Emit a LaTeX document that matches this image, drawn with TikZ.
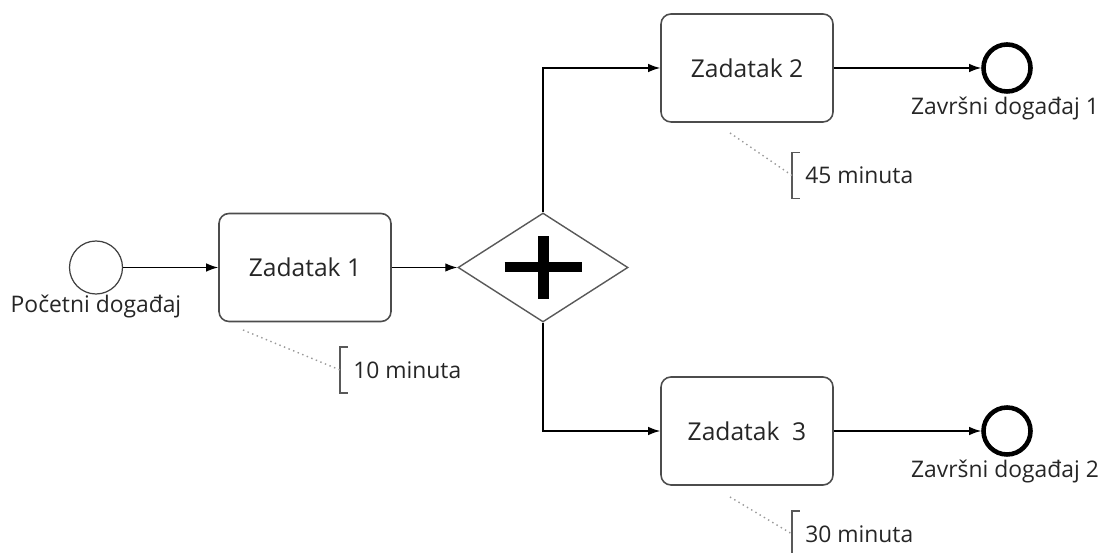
\documentclass[tikz,border=0pt]{standalone}
\usepackage{fontspec}
\setmainfont{Open Sans}
\usetikzlibrary{shapes.geometric,arrows.meta}

\begin{document}
\begin{tikzpicture}[font=\fontsize{13}{15}\selectfont, text=black!85,
    >={Latex[length=2.4mm,width=1.7mm]}]

        \useasboundingbox (0,0) rectangle (22.06,11.06);

        % events
        \begin{scope}[every node/.style={circle,draw,inner sep=0pt}]
          \node[minimum size=1.06cm,draw=black!75,line width=0.7pt] (1) at (1.92,5.71) {};
          \node[minimum size=0.94cm,line width=2.6pt] (6) at (20.14,9.70) {};
          \node[minimum size=0.94cm,line width=2.6pt] (7) at (20.14,2.44) {};
        \end{scope}

        \node (l1) at (1.92,4.94)  {Početni događaj};
        \node (l6) at (20.10,8.88) {Završni događaj 1};
        \node (l7) at (20.10,1.64) {Završni događaj 2};

        % tasks
        \begin{scope}[every node/.style={draw=black!70,line width=0.9pt,rounded corners=0.2cm,
            minimum width=3.44cm,minimum height=2.16cm,font=\fontsize{14}{16}\selectfont}]
          \node (2) at (6.10,5.71)  {Zadatak 1};
          \node (4) at (14.94,9.70) {Zadatak 2};
          \node (5) at (14.94,2.44) {Zadatak\ \ 3};
        \end{scope}

        % gateway
        \node[diamond,draw=black!65,line width=0.8pt,inner sep=0pt,
          minimum width=3.40cm,minimum height=2.18cm] (3) at (10.86,5.71) {};
        \draw[line width=0.2cm] ([xshift=-0.77cm]3.center) -- ([xshift=0.77cm]3.center);
        \draw[line width=0.22cm] ([yshift=-0.63cm]3.center) -- ([yshift=0.63cm]3.center);

        \begin{scope}[every edge/.style={draw,->,line width=0.75pt}]
          \path (1) edge (2);
          \path (2) edge (3);
          \path (4) edge (6);
          \path (5) edge (7);
        \end{scope}
        \draw[->,line width=0.75pt] (3.north) |- (4);
        \draw[->,line width=0.75pt] (3.south) |- (5);

        % annotations
        \begin{scope}[every node/.style={anchor=west,minimum height=0.9cm,inner xsep=0.26cm}]
          \node (8)  at (6.80,3.66)  {10 minuta};
          \node (9)  at (15.84,7.55) {45 minuta};
          \node (10) at (15.84,0.38) {30 minuta};
        \end{scope}
        \foreach \n in {8,9,10}
          \draw[black!65,line width=0.8pt] ([xshift=0.15cm]\n.north west) -- (\n.north west)
            -- (\n.south west) -- ([xshift=0.15cm]\n.south west);

        \coordinate (c8)  at (4.86,4.46);
        \coordinate (c9)  at (14.60,8.40);
        \coordinate (c10) at (14.60,1.12);
        \draw[black!40,dotted,line width=0.8pt] (c8) -- (8.west);
        \draw[black!40,dotted,line width=0.8pt] (c9) -- (9.west);
        \draw[black!40,dotted,line width=0.8pt] (c10) -- (10.west);

      \end{tikzpicture}
\end{document}
